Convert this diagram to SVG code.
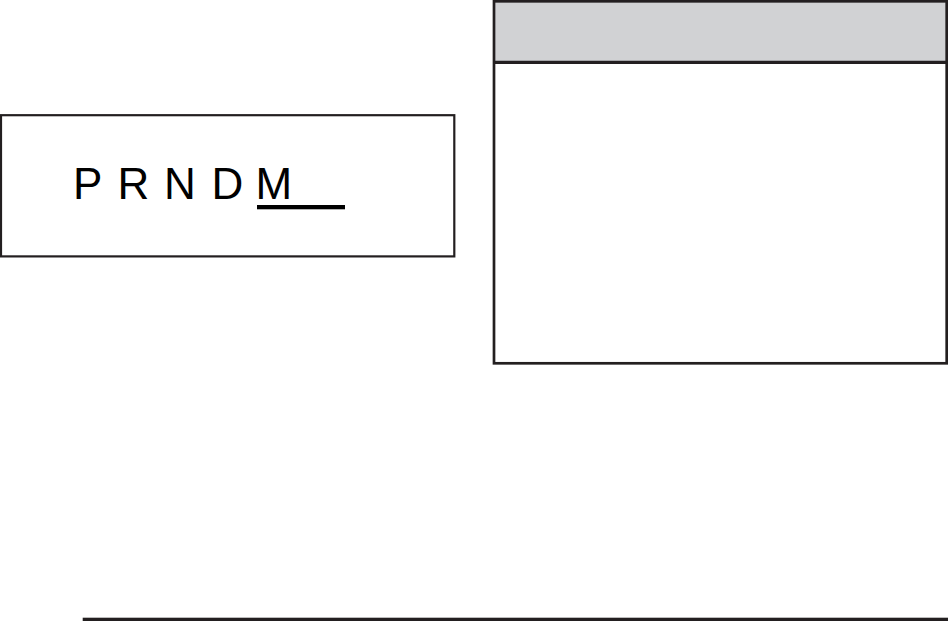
<svg xmlns="http://www.w3.org/2000/svg" width="948" height="621" viewBox="0 0 948 621">
<style>
.b{fill:none;stroke:#231f20}
.t{font-family:"Liberation Sans",Arial,sans-serif;font-size:44px;fill:#000}
</style>
<rect width="948" height="621" fill="#fff"/>
<g id="display">
<rect class="b" x="1" y="115.2" width="453.3" height="141.2" stroke-width="2.2"/>
<text class="t" x="73" y="199.3">P</text>
<text class="t" x="117.5" y="199.3">R</text>
<text class="t" x="164" y="199.3">N</text>
<text class="t" x="211.5" y="199.3">D</text>
<text class="t" x="255.5" y="199.3">M</text>
<rect x="257" y="205" width="88" height="4.3" fill="#000"/>
</g>
<g id="panel">
<rect x="494" y="1.3" width="452.7" height="60.7" fill="#d1d2d4"/>
<line class="b" x1="494" y1="62.3" x2="946.7" y2="62.3" stroke-width="3.3"/>
<rect class="b" x="494" y="1.3" width="452.7" height="362" stroke-width="2.7"/>
</g>
<rect x="82.7" y="617.7" width="865.3" height="3.3" fill="#231f20"/>
</svg>
